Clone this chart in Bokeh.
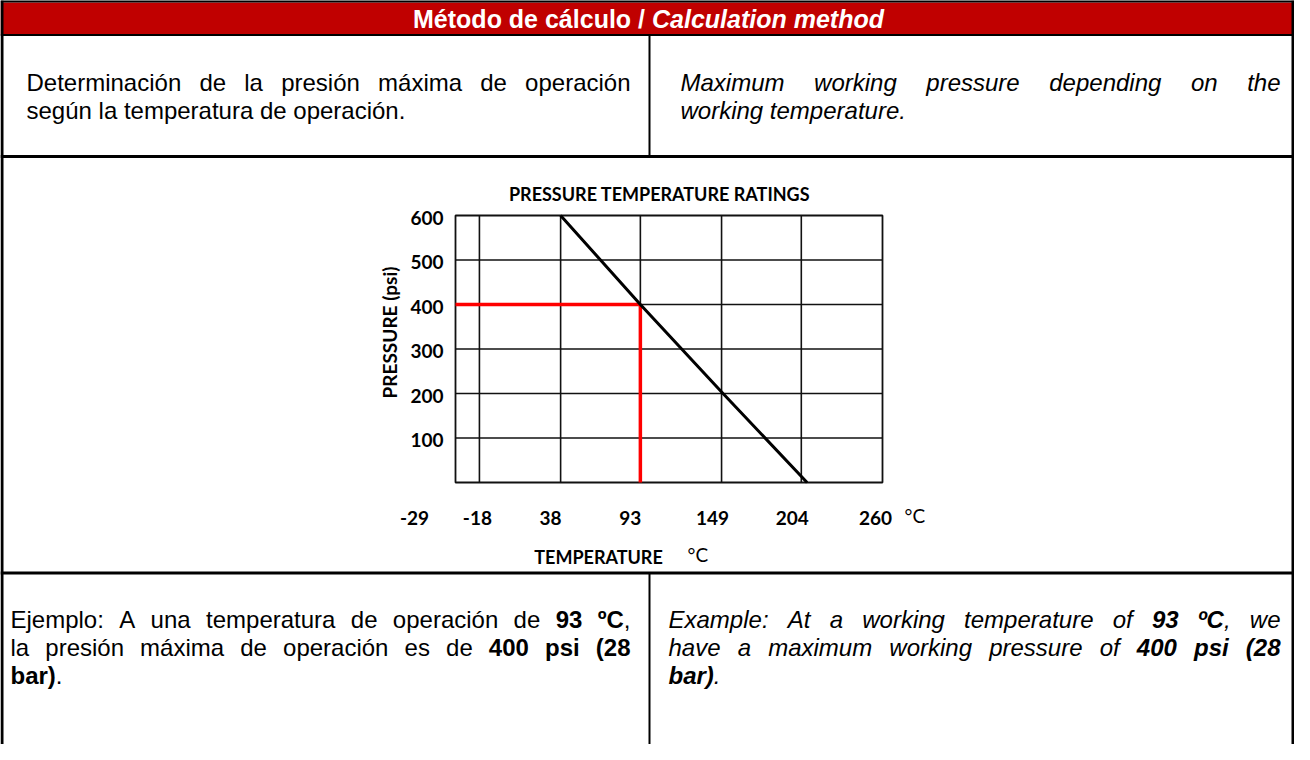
import math
from bokeh.plotting import figure
from bokeh.models import Range1d
from bokeh.core.properties import value
from bokeh.embed import file_html
from bokeh.resources import INLINE

# ---------------- data ----------------
rating_temp_c = [38, 93, 150, 208]
rating_psi = [600, 400, 200, 0]
example_temp_c = 93
example_psi = 400
temp_domain = [-34.5, 260]
psi_domain = [0, 600]
temp_grid = [-18, 38, 93, 149, 204]
psi_grid = [100, 200, 300, 400, 500]
temp_ticks = [-29, -18, 38, 93, 149, 204, 260]
temp_tick_labels = ["-29", "-18", "38", "93", "149", "204", "260"]
psi_ticks = [100, 200, 300, 400, 500, 600]
psi_tick_labels = ["100", "200", "300", "400", "500", "600"]

chart_title = "PRESSURE TEMPERATURE RATINGS"
x_title = "TEMPERATURE"
y_title = "PRESSURE (psi)"
unit_label = "°C"

header_runs = [("Método de cálculo / ", "bold"), ("Calculation method", "bold italic")]
intro_es = [[("Determinación de la presión máxima de operación", "normal")],
            [("según la temperatura de operación.", "normal")]]
intro_en = [[("Maximum working pressure depending on the", "italic")],
            [("working temperature.", "italic")]]
example_es = [
    [("Ejemplo: A una temperatura de operación de ", "normal"), ("93 ºC", "bold"), (",", "normal")],
    [("la presión máxima de operación es de ", "normal"), ("400 psi (28", "bold")],
    [("bar)", "bold"), (".", "normal")],
]
example_en = [
    [("Example: At a working temperature of ", "italic"), ("93 ºC", "bold italic"), (", we", "italic")],
    [("have a maximum working pressure of ", "italic"), ("400 psi (28", "bold italic")],
    [("bar)", "bold italic"), (".", "italic")],
]

# ---------------- styling / layout ----------------
W, H = 1294, 744
X0, Y0 = 8, 8
BODY_FONT = "Liberation Sans"
CHART_FONT = "Lato"
BODY_SIZE = 24
HEADER_SIZE = 25
RED_HEADER = "#C00000"

CH_L, CH_R, CH_T, CH_B = 463, 890, 223, 490   # chart frame in page px
x_label_nudge = [-49, -2, -10, -10, -9, -9, -7]

# Arial / Helvetica advance widths (1/1000 em)
REG = {' ': 278, '!': 278, '(': 333, ')': 333, ',': 278, '-': 333, '.': 278, '/': 278, ':': 278,
       'A': 667, 'B': 667, 'C': 722, 'D': 722, 'E': 667, 'F': 611, 'G': 778, 'H': 722, 'I': 278,
       'J': 500, 'K': 667, 'L': 556, 'M': 833, 'N': 722, 'O': 778, 'P': 667, 'Q': 778, 'R': 722,
       'S': 667, 'T': 611, 'U': 722, 'V': 667, 'W': 944, 'X': 667, 'Y': 667, 'Z': 611,
       'a': 556, 'b': 556, 'c': 500, 'd': 556, 'e': 556, 'f': 278, 'g': 556, 'h': 556, 'i': 222,
       'j': 222, 'k': 500, 'l': 222, 'm': 833, 'n': 556, 'o': 556, 'p': 556, 'q': 556, 'r': 333,
       's': 500, 't': 278, 'u': 556, 'v': 500, 'w': 722, 'x': 500, 'y': 500, 'z': 500, 'º': 365}
BOLD = {' ': 278, '(': 333, ')': 333, ',': 278, '.': 278, '/': 278, ':': 333,
        'A': 722, 'C': 722, 'E': 667, 'M': 833,
        'a': 556, 'b': 611, 'c': 556, 'd': 611, 'e': 556, 'f': 333, 'g': 611, 'h': 611, 'i': 278,
        'k': 556, 'l': 278, 'm': 889, 'n': 611, 'o': 611, 'p': 611, 'r': 389, 's': 556, 't': 333,
        'u': 611, 'v': 556, 'w': 778, 'x': 556, 'y': 556, 'º': 365}
for d in "0123456789":
    REG[d] = 556
    BOLD[d] = 556
ACC = {'á': 'a', 'é': 'e', 'í': 'i', 'ó': 'o', 'ú': 'u', 'ñ': 'n'}


def text_width(s, style, size):
    tab = BOLD if "bold" in style else REG
    return sum(tab.get(ACC.get(c, c), REG.get(ACC.get(c, c), 556)) for c in s) * size / 1000.0


def layout_line(runs, left, right, ymid, size, justify):
    words, cur = [], []
    for txt, st in runs:
        parts = txt.split(" ")
        for i, part in enumerate(parts):
            if i > 0:
                words.append(cur)
                cur = []
            if part:
                cur.append((part, st))
    words.append(cur)
    words = [w for w in words if w]
    space = 278 * size / 1000.0
    natural = sum(text_width(f, s, size) for w in words for f, s in w) + space * (len(words) - 1)
    gap = space
    if justify and len(words) > 1:
        gap = space + (right - left - natural) / (len(words) - 1)
    items = []
    x = left
    for w in words:
        for f, s in w:
            items.append((x, ymid, f, s))
            x += text_width(f, s, size)
        x += gap
    return items


def draw_items(p, items, size, color="black", font=BODY_FONT):
    styles = sorted(set(it[3] for it in items))
    for st in styles:
        sel = [it for it in items if it[3] == st]
        p.text(x=[it[0] for it in sel], y=[it[1] for it in sel], text=[it[2] for it in sel],
               text_font=value(font), text_font_size=f"{size}px", text_font_style=st,
               text_color=color, text_align="left", text_baseline="middle")


def draw_paragraph(p, lines, left, right, y0, lead, size):
    items = []
    for i, runs in enumerate(lines):
        last = (i == len(lines) - 1)
        items += layout_line(runs, left, right, y0 + i * lead, size, justify=not last)
    draw_items(p, items, size)


p = figure(width=W, height=H, x_range=Range1d(X0, X0 + W), y_range=Range1d(Y0 + H, Y0),
           output_backend="svg", toolbar_location=None, min_border=0,
           x_axis_location=None, y_axis_location=None)
p.xgrid.visible = False
p.ygrid.visible = False
p.outline_line_color = None
p.background_fill_color = "white"
p.border_fill_color = "white"

# ---- table structure ----
p.quad(left=[X0], right=[X0 + W], top=[10], bottom=[42], fill_color=RED_HEADER, line_color=None)
hx0 = [X0, X0, X0, X0]
hx1 = [X0 + W, X0 + W, X0 + W, X0 + W]
hy = [8.5, 42.5, 164, 580.5]
p.segment(x0=hx0, y0=hy, x1=hx1, y1=hy, line_color="black", line_width=[3, 2, 3, 3])
p.segment(x0=[9.5, 1300.5, 657, 657], y0=[8, 8, 42, 580], x1=[9.5, 1300.5, 657, 657],
          y1=[Y0 + H, Y0 + H, 164, Y0 + H], line_color="black", line_width=[3, 3, 2, 2])

# header text (centered)
hw = sum(text_width(t, s, HEADER_SIZE) for t, s in header_runs)
hx = 656 - hw / 2
hitems = []
for t, s in header_runs:
    hitems.append((hx, 26, t, s))
    hx += text_width(t, s, HEADER_SIZE)
draw_items(p, hitems, HEADER_SIZE, color="white")

# paragraphs
draw_paragraph(p, intro_es, 34, 638, 90, 28, BODY_SIZE)
draw_paragraph(p, intro_en, 688, 1288, 90, 28, BODY_SIZE)
draw_paragraph(p, example_es, 18, 638, 627, 28, BODY_SIZE)
draw_paragraph(p, example_en, 676, 1288, 627, 28, BODY_SIZE)

# ---- chart (own scales mapped onto chart box) ----
kx = (temp_domain[1] - temp_domain[0]) / (CH_R - CH_L)
ky = (psi_domain[1] - psi_domain[0]) / (CH_T - CH_B)
p.extra_x_ranges = {"temp": Range1d(temp_domain[0] + (X0 - CH_L) * kx,
                                    temp_domain[0] + (X0 + W - CH_L) * kx)}
p.extra_y_ranges = {"psi": Range1d(psi_domain[0] + (Y0 + H - CH_B) * ky,
                                   psi_domain[0] + (Y0 - CH_B) * ky)}
R = dict(x_range_name="temp", y_range_name="psi")

# grid
p.segment(x0=[temp_domain[0]] * len(psi_grid), x1=[temp_domain[1]] * len(psi_grid),
          y0=psi_grid, y1=psi_grid, line_color="#111111", line_width=1.6, **R)
p.segment(x0=temp_grid, x1=temp_grid, y0=[psi_domain[0]] * len(temp_grid),
          y1=[psi_domain[1]] * len(temp_grid), line_color="#111111", line_width=1.6, **R)
p.quad(left=[temp_domain[0]], right=[temp_domain[1]], bottom=[psi_domain[0]], top=[psi_domain[1]],
       fill_color=None, line_color="#111111", line_width=1.8, **R)

# example lines
p.line([temp_domain[0], example_temp_c, example_temp_c], [example_psi, example_psi, psi_domain[0]],
       line_color="#FF0000", line_width=3.5, **R)
# rating line
p.line(rating_temp_c, rating_psi, line_color="black", line_width=3, **R)

# tick labels
p.text(x=temp_ticks, y=[psi_domain[0]] * len(temp_ticks), text=temp_tick_labels,
       x_offset=x_label_nudge, y_offset=35, text_align="center", text_baseline="middle",
       text_font=value(CHART_FONT), text_font_size="19px", text_font_style="bold",
       text_color="black", **R)
p.text(x=[temp_domain[0]] * len(psi_ticks), y=psi_ticks, text=psi_tick_labels,
       x_offset=-12, y_offset=2, text_align="right", text_baseline="middle",
       text_font=value(CHART_FONT), text_font_size="19px", text_font_style="bold",
       text_color="black", **R)
p.text(x=[temp_domain[1]], y=[psi_domain[0]], text=[unit_label], x_offset=22, y_offset=33,
       text_align="left", text_baseline="middle", text_font=value(CHART_FONT),
       text_font_size="19px", text_color="black", **R)

# chart titles (page coords)
p.text(x=[667], y=[201], text=[chart_title], text_align="center", text_baseline="middle",
       text_font=value(CHART_FONT), text_font_size="18px", text_font_style="bold", text_color="black")
p.text(x=[606], y=[564], text=[x_title], text_align="center", text_baseline="middle",
       text_font=value(CHART_FONT), text_font_size="18px", text_font_style="bold", text_color="black")
p.text(x=[695], y=[562], text=[unit_label], text_align="left", text_baseline="middle",
       text_font=value(CHART_FONT), text_font_size="19px", text_color="black")
p.text(x=[397], y=[340], text=[y_title], angle=math.pi / 2, text_align="center",
       text_baseline="middle", text_font=value(CHART_FONT), text_font_size="19px",
       text_font_style="bold", text_color="black")

open("out.html", "w").write(file_html(p, INLINE))
